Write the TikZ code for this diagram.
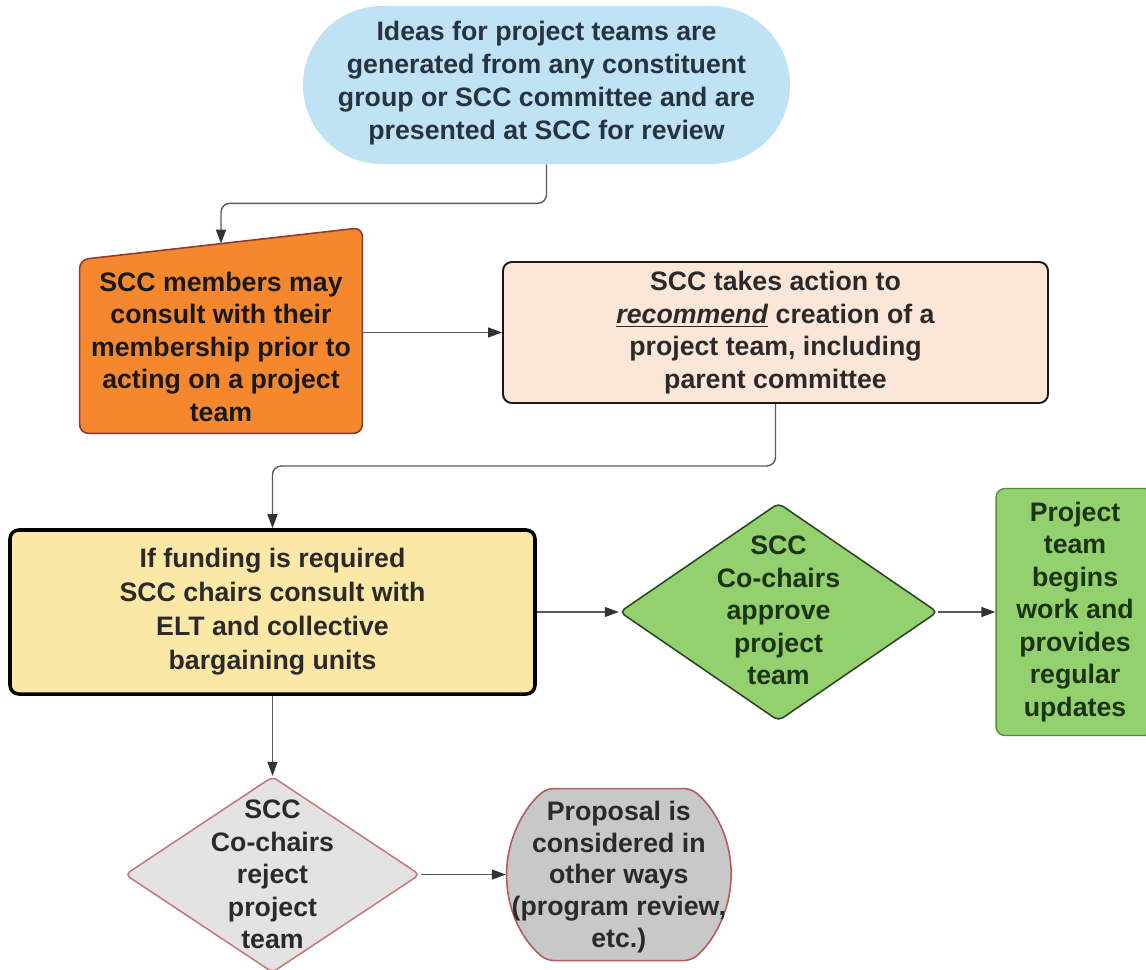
\documentclass[tikz,border=0pt]{standalone}
\usepackage{fontspec}
\setmainfont{Liberation Sans}
\usepackage{tikz}
\usetikzlibrary{calc,positioning,shapes,arrows.meta,backgrounds}

\definecolor{ideasblue}{HTML}{BFE2F4}
\definecolor{ideastext}{HTML}{263440}
\definecolor{consultorange}{HTML}{F5872F}
\definecolor{consultedge}{HTML}{8C3B2E}
\definecolor{recpeach}{HTML}{FCE6D7}
\definecolor{fundyellow}{HTML}{FCE8A6}
\definecolor{approvegreen}{HTML}{93D16E}
\definecolor{greenedge}{HTML}{2F4528}
\definecolor{beginsedge}{HTML}{5B8A46}
\definecolor{greentext}{HTML}{1D3315}
\definecolor{rejectgray}{HTML}{E3E3E3}
\definecolor{rejectedge}{HTML}{C77B7B}
\definecolor{othergray}{HTML}{C8C8C8}
\definecolor{otheredge}{HTML}{B65A5A}
\definecolor{linegray}{HTML}{5A5A5A}
\definecolor{textdark}{HTML}{2A2A2A}

\tikzset{
  txt/.style={font=\fontsize{15.2}{18.5}\selectfont\bfseries,align=center,text=textdark},
  box/.style={txt,rectangle,rounded corners=5pt,inner sep=0pt},
  decision/.style={shape=diamond,inner sep=0pt,rounded corners=3pt,line width=0.9pt},
  terminal/.style={shape=rounded rectangle,inner sep=0pt},
  conn/.style={draw=linegray,line width=0.8pt,rounded corners=5pt},
  >={Triangle[length=2.8mm,width=2mm,color=black!80]},
}

\begin{document}
\begin{tikzpicture}
	\useasboundingbox (0,0) rectangle (22.92,-19.4);
	\clip (0,0) rectangle (22.92,-19.4);
	% ideas
	\node (ideas) [terminal,fill=ideasblue,minimum width=9.74cm,minimum height=3.16cm] at (10.93,-1.70) {};
	\node (ideastxt) [txt,text=ideastext,font=\fontsize{15.2}{18.9}\selectfont\bfseries] at ([yshift=0.04cm]ideas.center) {Ideas for project teams are\\ generated from any constituent\\ group or SCC committee and are\\ presented at SCC for review};
	% members consult
	\node (consult) [txt,text=black!90,minimum width=5.64cm,minimum height=3.46cm] at (4.42,-6.93) {SCC members may\\ consult with their\\ membership prior to\\ acting on a project\\ team};
	\begin{scope}[on background layer]
		\draw[fill=consultorange,draw=consultedge,line width=0.9pt,rounded corners=5pt]
			(consult.south west) -- (consult.north west) -- ($(consult.north east)+(0,0.64)$) -- (consult.south east) -- cycle;
	\end{scope}
	\coordinate (consulttop) at ($(consult.north west)!0.5!(consult.north east)+(0,0.32)$);
	% recommendation
	\node (recommend) [box,fill=recpeach,draw=black!90,line width=1.1pt,minimum width=10.9cm,minimum height=2.82cm] at (15.51,-6.65) {SCC takes action to\\ \underline{\textit{recommend}} creation of a\\ project team, including\\ parent committee};
	% funding
	\node (fund) [box,fill=fundyellow,draw=black,line width=2pt,minimum width=10.5cm,minimum height=3.28cm,font=\fontsize{15.2}{19.3}\selectfont\bfseries] at (5.45,-12.24) {If funding is required\\ SCC chairs consult with\\ ELT and collective\\ bargaining units};
	% approve branch
	\node (approve) [decision,fill=approvegreen,draw=greenedge,minimum width=6.36cm,minimum height=4.36cm,right=1.64cm of fund] {};
	\node (approvetxt) [txt,text=greentext] at ([yshift=0.03cm]approve.center) {SCC\\ Co-chairs\\ approve\\ project\\ team};
	\node (begins) [box,fill=approvegreen,draw=beginsedge,line width=0.8pt,text=greentext,minimum width=3.16cm,minimum height=4.94cm,right=1.14cm of approve] {Project\\ team\\ begins\\ work and\\ provides\\ regular\\ updates};
	% reject branch
	\node (reject) [decision,fill=rejectgray,draw=rejectedge,minimum width=5.9cm,minimum height=3.92cm,below=1.6cm of fund] {};
	\node (rejecttxt) [txt] at (reject) {SCC\\ Co-chairs\\ reject\\ project\\ team};
	\node (other) [terminal,rounded rectangle arc length=100,rounded corners=4pt,fill=othergray,draw=otheredge,line width=0.9pt,minimum width=4.44cm,minimum height=3.44cm,right=1.7cm of reject] {};
	\node (othertxt) [txt,font=\fontsize{15.2}{18}\selectfont\bfseries] at ([yshift=-0.05cm]other.center) {Proposal is\\ considered in\\ other ways\\ (program review,\\ etc.)};
	% connectors
	\draw[conn,->] (ideas.south) -- ++(0,-0.78) -| (consulttop);
	\draw[conn,->] (consult.east |- recommend.west) -- (recommend.west);
	\draw[conn,->] (recommend.south) -- ++(0,-1.24) -| (fund.north);
	\draw[conn,->] (fund.east) -- (approve.west);
	\draw[conn,->] (approve.east) -- (begins.west);
	\draw[conn,->] (fund.south) -- (reject.north);
	\draw[conn,->] (reject.east) -- (other.west);
\end{tikzpicture}
\end{document}
